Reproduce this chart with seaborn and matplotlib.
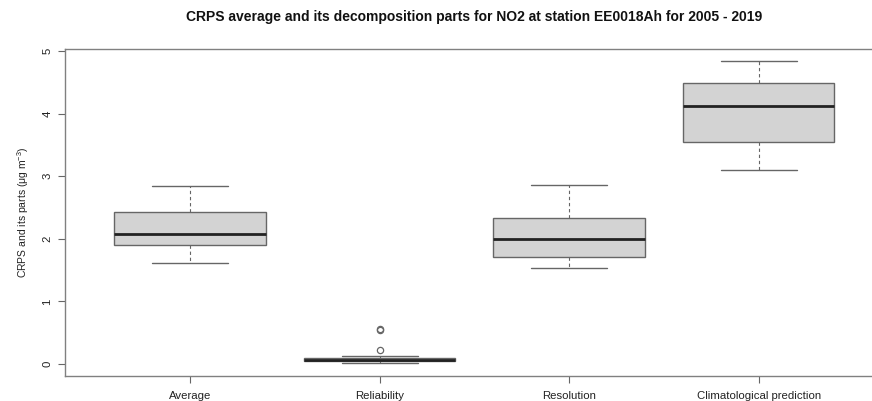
import numpy as np
import pandas as pd
import seaborn as sns
import matplotlib
matplotlib.use("Agg")
import matplotlib.pyplot as plt

# ---- data (values per year 2005-2019, read from the box statistics) ----
categories = ["Average", "Reliability", "Resolution", "Climatological prediction"]
average_vals = [1.61, 1.72, 1.84, 1.89, 1.91, 1.97, 2.03, 2.08, 2.15, 2.27, 2.41, 2.45, 2.58, 2.70, 2.84]
reliability_vals = [0.01, 0.02, 0.03, 0.040, 0.044, 0.05, 0.06, 0.068, 0.072, 0.078, 0.085, 0.125, 0.22, 0.55, 0.565]
resolution_vals = [1.54, 1.60, 1.66, 1.70, 1.72, 1.82, 1.91, 2.00, 2.08, 2.18, 2.32, 2.36, 2.52, 2.70, 2.86]
climatological_vals = [3.10, 3.28, 3.42, 3.53, 3.57, 3.75, 3.95, 4.12, 4.22, 4.35, 4.47, 4.51, 4.63, 4.74, 4.84]
y_ticks = [0, 1, 2, 3, 4, 5]

title = "CRPS average and its decomposition parts for NO2 at station EE0018Ah for 2005 - 2019"
ylabel = r"CRPS and its parts ($\mathregular{\mu}$g m$^{-3}$)"

series = [average_vals, reliability_vals, resolution_vals, climatological_vals]
df = pd.DataFrame({
    "part": np.repeat(categories, [len(s) for s in series]),
    "value": np.concatenate(series),
})

sns.set_style("white")
plt.rcParams["font.family"] = ["Liberation Sans", "DejaVu Sans"]
plt.rcParams["mathtext.fontset"] = "custom"
plt.rcParams["mathtext.rm"] = "Liberation Sans"
plt.rcParams["mathtext.it"] = "Liberation Sans:italic"

fig = plt.figure(figsize=(8.72, 4.01), dpi=100)
ax = fig.add_axes([0.0745, 0.0623, 0.939, 0.8155])

edge = "#666666"
sns.boxplot(
    data=df, x="part", y="value", order=categories, ax=ax,
    color="#d3d3d3", saturation=1, width=0.8, whis=1.5,
    linecolor=edge, linewidth=1.0,
    medianprops=dict(color="#222222", linewidth=2.0),
    whiskerprops=dict(color=edge, linestyle=(0, (3, 2.5)), linewidth=0.8),
    capprops=dict(color=edge, linewidth=1.0),
    flierprops=dict(marker="o", markerfacecolor="none", markeredgecolor="#666666",
                    markersize=4.5, markeredgewidth=0.9),
)

ax.set_xlim(-0.66, 3.66)
ax.set_ylim(-0.19, 5.03)
ax.set_yticks(y_ticks)
ax.set_yticklabels([str(t) for t in y_ticks], rotation=90, va="center", fontsize=8.2, color="#222222")
ax.tick_params(axis="x", labelsize=8.2, colors="#222222", length=5, width=0.8, color="#666666", pad=5.5, bottom=True)
ax.tick_params(axis="y", length=5, width=0.8, color="#666666", pad=4, left=True)
for sp in ax.spines.values():
    sp.set_color("#808080")
    sp.set_linewidth(1.0)
ax.set_xlabel("")
ax.set_ylabel(ylabel, fontsize=7.5, color="#222222", labelpad=8)
ax.set_title(title, fontsize=10, fontweight="bold", color="#111111", pad=20)

fig.savefig("out.png", dpi=100)
